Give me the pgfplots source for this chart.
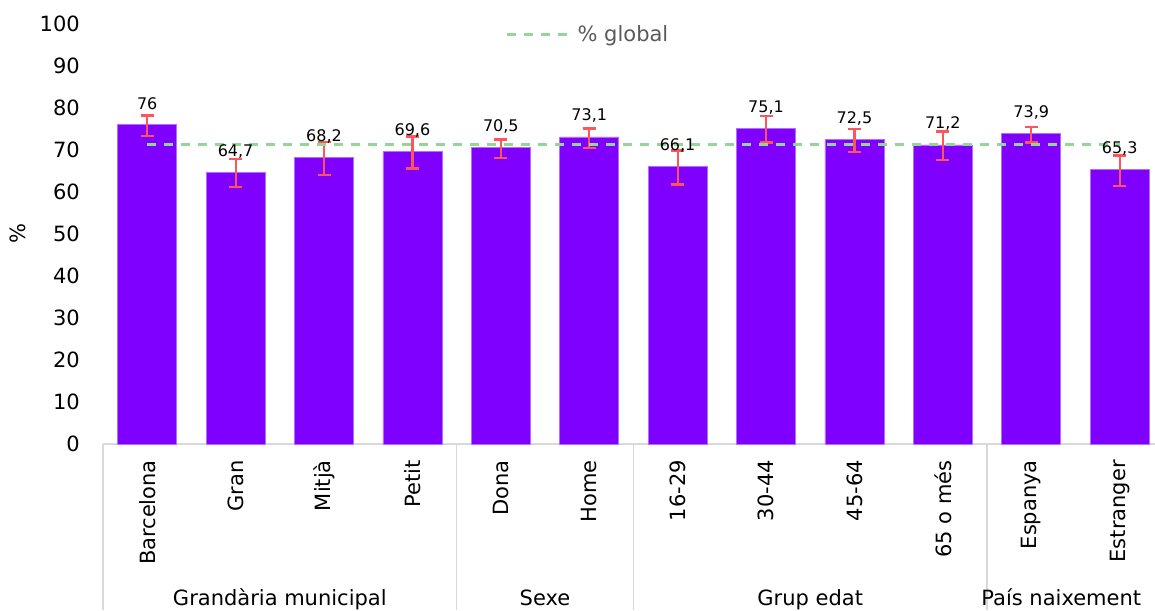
\documentclass[border=0pt]{standalone}
\usepackage{pgfplots}
\pgfplotsset{compat=1.18}
\usepackage{pgfplotstable}
\usepackage{fontspec}
\setmainfont{DejaVu Sans}
\definecolor{barc}{RGB}{128,0,255}
\definecolor{bare}{RGB}{178,110,255}
\definecolor{errc}{RGB}{255,85,90}
\definecolor{glob}{RGB}{146,215,150}
\definecolor{sepc}{RGB}{217,217,217}
\definecolor{legt}{RGB}{89,89,89}
\pgfplotstableread{
x y ep em lab
0 76 2.2 2.6 76
1 64.7 3.2 3.6 {64,7}
2 68.2 3.7 4.2 {68,2}
3 69.6 3.6 4.0 {69,6}
4 70.5 2.0 2.5 {70,5}
5 73.1 2.0 2.6 {73,1}
6 66.1 3.8 4.3 {66,1}
7 75.1 2.9 3.3 {75,1}
8 72.5 2.5 3.0 {72,5}
9 71.2 3.2 3.6 {71,2}
10 73.9 1.6 2.1 {73,9}
11 65.3 3.4 3.9 {65,3}
}\datatab
\pgfplotstableread{
x y
0 71.4
11 71.4
}\globtab
\begin{document}
\begin{tikzpicture}
\begin{axis}[
  at={(0pt,0pt)}, anchor=south west,
  scale only axis, width=1052pt, height=420pt,
  xmin=-0.5, xmax=11.4, ymin=0, ymax=100,
  clip=false,
  axis x line=bottom, axis y line=left,
  x axis line style={draw=sepc, line width=1.2pt, -},
  y axis line style={draw=none},
  major tick length=0pt,
  xtick={0,...,11},
  xticklabels={Barcelona,Gran,Mitjà,Petit,Dona,Home,16-29,30-44,45-64,65 o més,Espanya,Estranger},
  xticklabel style={rotate=90, anchor=east, inner sep=0pt, font=\fontsize{21}{25}\selectfont},
  xticklabel shift=16pt,
  ytick={0,10,...,100},
  yticklabel style={anchor=east, inner sep=0pt, xshift=-23pt, font=\fontsize{21}{25}\selectfont},
  /pgf/number format/assume math mode=true,
  ylabel={\%},
  every axis y label/.style={at={(axis description cs:-0.0808,0.5)}, rotate=90, anchor=center, font=\fontsize{21}{25}\selectfont},
  legend style={at={(axis description cs:0.461,0.976)}, anchor=center, draw=none, fill=none,
    font=\fontsize{21}{25}\selectfont\color{legt}, inner sep=0pt},
  legend image code/.code={\draw[#1] (0pt,0pt) -- (67pt,0pt);},
]
\addplot[forget plot, ybar, bar width=59pt, fill=barc, draw=bare, line width=0.8pt,
  error bars/.cd, y dir=both, y explicit,
  error bar style={color=errc, line width=2.2pt},
  error mark options={rotate=90, mark size=6.5pt, line width=2.2pt, color=errc}]
  table[x=x, y=y, y error plus=ep, y error minus=em] {\datatab};
\addplot[forget plot, only marks, mark=none,
  nodes near coords, point meta=explicit symbolic,
  every node near coord/.style={anchor=center, yshift=21pt, font=\fontsize{16}{19}\selectfont, text=black}]
  table[x=x, y=y, meta=lab] {\datatab};
\addplot[glob, line width=3pt, dash pattern=on 9pt off 8pt] table[x=x,y=y] {\globtab};
\addlegendentry{\% global}
\draw[sepc, line width=1.2pt] (axis cs:-0.5,0) -- ++(0pt,-166pt);
\draw[sepc, line width=1.2pt] (axis cs:3.5,0) -- ++(0pt,-166pt);
\draw[sepc, line width=1.2pt] (axis cs:5.5,0) -- ++(0pt,-166pt);
\draw[sepc, line width=1.2pt] (axis cs:9.5,0) -- ++(0pt,-166pt);
\node[font=\fontsize{21}{25}\selectfont, anchor=base] at ([yshift=-161pt]axis cs:1.5,0) {Grandària municipal};
\node[font=\fontsize{21}{25}\selectfont, anchor=base] at ([yshift=-161pt]axis cs:4.5,0) {Sexe};
\node[font=\fontsize{21}{25}\selectfont, anchor=base] at ([yshift=-161pt]axis cs:7.5,0) {Grup edat};
\node[font=\fontsize{21}{25}\selectfont, anchor=base] at ([yshift=-161pt]axis cs:10.34,0) {País naixement};
\end{axis}
\pgfresetboundingbox
\useasboundingbox (-103pt,-166pt) rectangle (1052pt,444pt);
\end{tikzpicture}
\end{document}
